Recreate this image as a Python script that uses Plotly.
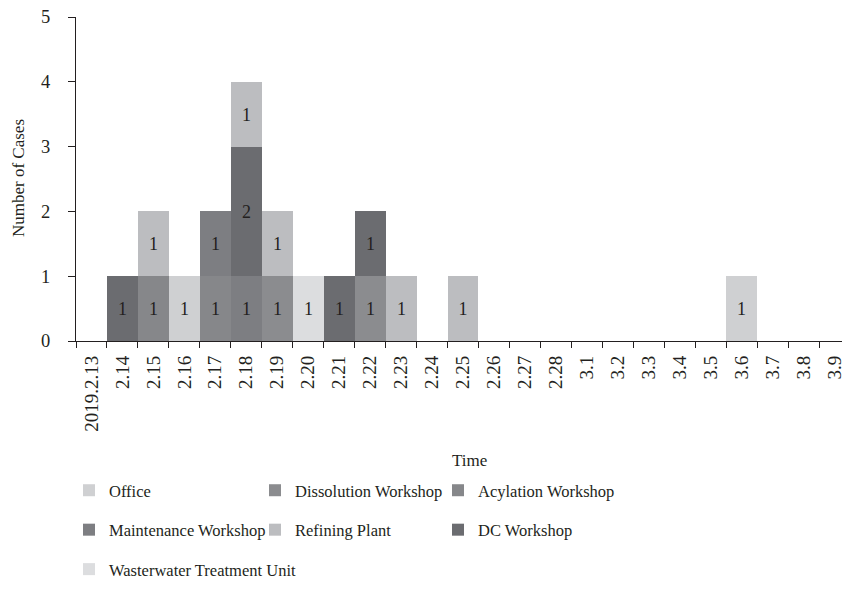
import plotly.graph_objects as go

dates = ["2019.2.13", "2.14", "2.15", "2.16", "2.17", "2.18", "2.19", "2.20", "2.21", "2.22",
         "2.23", "2.24", "2.25", "2.26", "2.27", "2.28", "3.1", "3.2", "3.3", "3.4", "3.5",
         "3.6", "3.7", "3.8", "3.9"]

office      = [0, 0, 0, 1, 0, 0, 0, 0, 0, 0, 0, 0, 0, 0, 0, 0, 0, 0, 0, 0, 0, 1, 0, 0, 0]
dissolution = [0, 0, 0, 0, 0, 0, 1, 0, 0, 1, 0, 0, 0, 0, 0, 0, 0, 0, 0, 0, 0, 0, 0, 0, 0]
acylation   = [0, 0, 1, 0, 1, 0, 0, 0, 0, 0, 0, 0, 0, 0, 0, 0, 0, 0, 0, 0, 0, 0, 0, 0, 0]
maintenance = [0, 0, 0, 0, 1, 1, 0, 0, 0, 0, 0, 0, 0, 0, 0, 0, 0, 0, 0, 0, 0, 0, 0, 0, 0]
dc          = [0, 1, 0, 0, 0, 2, 0, 0, 1, 1, 0, 0, 0, 0, 0, 0, 0, 0, 0, 0, 0, 0, 0, 0, 0]
refining    = [0, 0, 1, 0, 0, 1, 1, 0, 0, 0, 1, 0, 1, 0, 0, 0, 0, 0, 0, 0, 0, 0, 0, 0, 0]
wastewater  = [0, 0, 0, 0, 0, 0, 0, 1, 0, 0, 0, 0, 0, 0, 0, 0, 0, 0, 0, 0, 0, 0, 0, 0, 0]

# stacking order bottom -> top, with legend placement
series = [
    ("Office", office, "#cfd0d2", "legend", 1),
    ("Dissolution Workshop", dissolution, "#8b8c8f", "legend2", 1),
    ("Acylation Workshop", acylation, "#86878a", "legend3", 1),
    ("Maintenance Workshop", maintenance, "#7d7e82", "legend", 2),
    ("DC Workshop", dc, "#6b6c70", "legend3", 2),
    ("Refining Plant", refining, "#bcbdc0", "legend2", 2),
    ("Wasterwater Treatment Unit", wastewater, "#dcdddf", "legend", 3),
]

FONT = "Liberation Serif"
INK = "#231f20"

fig = go.Figure()
for name, vals, color, leg, rank in series:
    fig.add_trace(go.Bar(
        x=dates, y=vals, name=name,
        marker=dict(color=color, line=dict(width=0)),
        text=[str(v) if v else "" for v in vals],
        textposition="inside", insidetextanchor="middle", textangle=0,
        constraintext="none",
        textfont=dict(family=FONT, size=18, color=INK),
        legend=leg, legendrank=rank, legendgroup=name,
    ))

OFF = 8  # page body margin
W, H = 850 - OFF, 610 - 2 * OFF
L, R, T = 76 - OFF, 0, 17 - OFF
B = H - (341 - OFF)
pw = W - L - R
ph = H - T - B

def px_x(sx):
    return (sx - OFF - L) / pw

def px_y(sy):
    return (H - B - (sy - OFF)) / ph

legend_common = dict(
    orientation="v", xanchor="left", yanchor="top",
    font=dict(family=FONT, size=16.5, color=INK),
    bgcolor="rgba(0,0,0,0)", tracegroupgap=15, itemwidth=30,
)

fig.update_layout(
    width=W, height=H,
    margin=dict(l=L, r=R, t=T, b=B, pad=0),
    paper_bgcolor="white", plot_bgcolor="white",
    barmode="stack", bargap=0,
    font=dict(family=FONT, size=17, color=INK),
    legend=dict(x=px_x(69), y=px_y(473), **legend_common),
    legend2=dict(x=px_x(255), y=px_y(473), **legend_common),
    legend3=dict(x=px_x(438), y=px_y(473), **legend_common),
    xaxis=dict(
        type="category", range=[-0.5, 24.5], automargin=False,
        showline=True, linecolor=INK, linewidth=1.3,
        ticks="outside", tickson="boundaries", ticklen=6, tickcolor=INK, tickwidth=1.3,
        tickangle=-90, tickfont=dict(family=FONT, size=19, color=INK),
        ticklabelstandoff=6, ticklabeloverflow="allow",
        showgrid=False, zeroline=False,
    ),
    yaxis=dict(
        range=[0, 5], dtick=1, tick0=0, automargin=False,
        showline=True, linecolor=INK, linewidth=1.3,
        ticks="outside", ticklen=7, tickcolor=INK, tickwidth=1.3,
        tickfont=dict(family=FONT, size=18.5, color=INK),
        ticklabelstandoff=14, ticklabeloverflow="allow",
        showgrid=False, zeroline=False,
    ),
    annotations=[
        dict(
            text="Time", x=px_x(469), y=px_y(461), xref="paper", yref="paper",
            showarrow=False, font=dict(family=FONT, size=17, color=INK),
            xanchor="center", yanchor="middle",
        ),
        dict(
            text="Number of Cases", x=px_x(18), y=px_y(178), xref="paper", yref="paper",
            showarrow=False, font=dict(family=FONT, size=17, color=INK),
            xanchor="center", yanchor="middle", textangle=-90,
        ),
    ],
)

fig.write_html("out.html")
